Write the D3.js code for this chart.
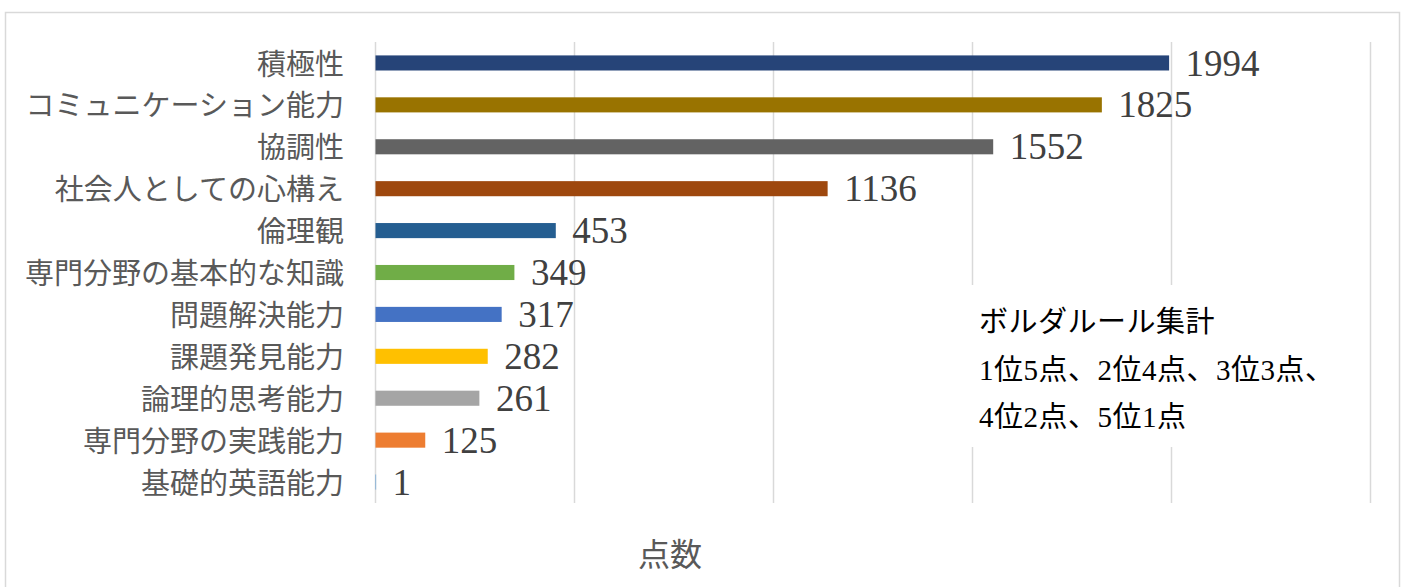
<!DOCTYPE html>
<html lang="ja">
  <head>
    <meta charset="utf-8">
    <title>ボルダルール集計</title>
    <style>
      body { margin: 0; background: #fff; }
      svg { display: block; }
    </style>
    <script src="https://d3js.org/d3.v7.min.js"></script>
  </head>
  <body>
    <div class="chart"></div>
    <script>
    // data, top to bottom
    const categories = ["積極性", "コミュニケーション能力", "協調性", "社会人としての心構え", "倫理観",
      "専門分野の基本的な知識", "問題解決能力", "課題発見能力", "論理的思考能力", "専門分野の実践能力", "基礎的英語能力"]
    const scores = [1994, 1825, 1552, 1136, 453, 349, 317, 282, 261, 125, 1]
    const barColors = ["#264478", "#997300", "#636363", "#9E480E", "#255E91",
      "#70AD47", "#4472C4", "#FFC000", "#A5A5A5", "#ED7D31", "#5B9BD5"]
    const gridTicks = [0, 500, 1000, 1500, 2000, 2500]
    const axisTitle = "点数"
    const noteLines = ["ボルダルール集計", "1位5点、2位4点、3位3点、", "4位2点、5位1点"]

    const W = 1405, H = 587
    const plot = { left: 375, right: 1370, top: 42, bottom: 503 }
    const jp = "'Noto Sans CJK JP', sans-serif"
    const num = "'Liberation Serif', 'DejaVu Serif', serif"

    const data = categories.map((c, i) => ({ name: c, value: scores[i], color: barColors[i] }))

    const svg = d3.select(".chart")
      .append("svg")
      .attr("width", W)
      .attr("height", H)

    // chart frame
    svg.append("rect")
      .attr("x", 5.5).attr("y", 12.5)
      .attr("width", 1394).attr("height", 600)
      .attr("fill", "#fff")
      .attr("stroke", "#d9d9d9")
      .attr("stroke-width", 1.5)

    const x = d3.scaleLinear()
      .domain([0, 2500])
      .range([plot.left, plot.right])

    const y = d3.scaleBand()
      .domain(categories)
      .range([plot.top, plot.bottom])
      .paddingInner(0.64)
      .paddingOuter(0.32)

    // vertical gridlines
    svg.append("g")
      .selectAll("line")
      .data(gridTicks)
      .join("line")
      .attr("x1", d => x(d) + 0.5)
      .attr("x2", d => x(d) + 0.5)
      .attr("y1", plot.top)
      .attr("y2", plot.bottom)
      .attr("stroke", "#d9d9d9")
      .attr("stroke-width", 1.5)

    // category axis labels
    const yAxis = g => g.attr("transform", `translate(${plot.left},0)`)
      .call(d3.axisLeft(y).tickSize(0).tickPadding(31))
      .call(g => g.select(".domain").remove())
      .call(g => g.selectAll("text")
        .attr("fill", "#595959")
        .attr("dy", "0.4em")
        .style("font-family", jp)
        .style("font-size", "29px"))

    svg.append("g").call(yAxis)

    // bars
    svg.append("g")
      .selectAll("rect")
      .data(data)
      .join("rect")
      .attr("x", x(0) + 0.5)
      .attr("y", d => y(d.name))
      .attr("width", d => Math.max(x(d.value) - x(0), 0.6))
      .attr("height", y.bandwidth())
      .attr("fill", d => d.color)

    // value labels
    svg.append("g")
      .selectAll("text")
      .data(data)
      .join("text")
      .attr("x", d => x(d.value) + 17)
      .attr("y", d => y(d.name) + y.bandwidth() / 2)
      .attr("dy", "0.34em")
      .attr("fill", "#404040")
      .style("font-family", num)
      .style("font-size", "37px")
      .text(d => d.value)

    // axis title
    svg.append("text")
      .attr("x", 670)
      .attr("y", 566)
      .attr("text-anchor", "middle")
      .attr("fill", "#595959")
      .style("font-family", jp)
      .style("font-size", "32px")
      .text(axisTitle)

    // note box
    const note = svg.append("g")
    note.append("rect")
      .attr("x", 962).attr("y", 285)
      .attr("width", 372).attr("height", 162)
      .attr("fill", "#fff")
    note.selectAll("text")
      .data(noteLines)
      .join("text")
      .attr("x", 979)
      .attr("y", (d, i) => 322 + i * 47.5)
      .attr("dy", "0.35em")
      .attr("fill", "#000")
      .style("font-family", "'Liberation Serif', 'Noto Sans CJK JP', serif")
      .style("font-size", "29px")
      .style("letter-spacing", "0.5px")
      .text(d => d)
    </script>
  </body>
</html>
